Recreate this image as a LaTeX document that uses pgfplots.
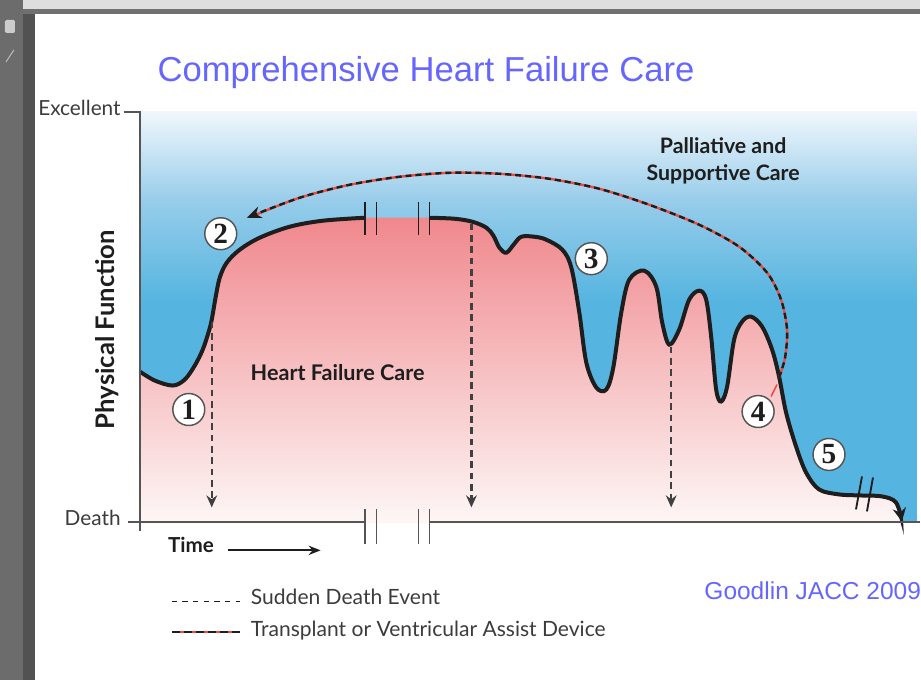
\documentclass[border=0pt]{standalone}
\usepackage{pgfplots}
\pgfplotsset{compat=1.18}
\usepackage{fontspec}
\setmainfont{Lato}
\newfontfamily\arialf{Liberation Sans}
\newfontfamily\seriff{Liberation Serif}
\usetikzlibrary{arrows.meta}
\definecolor{bgblue}{RGB}{86,181,224}
\definecolor{bgmid}{RGB}{150,204,234}
\definecolor{bgtop}{RGB}{240,247,252}
\definecolor{pinktop}{RGB}{240,136,141}
\definecolor{pinkmid}{RGB}{245,188,180}
\definecolor{pinkbot}{RGB}{253,247,246}
\definecolor{titleblue}{RGB}{102,102,255}
\definecolor{ink}{RGB}{30,30,30}
\definecolor{txt}{RGB}{60,60,60}
\definecolor{axgrey}{RGB}{85,85,85}
\definecolor{vadred}{RGB}{235,75,65}
\definecolor{barA}{RGB}{108,108,108}
\definecolor{barB}{RGB}{82,82,82}
\definecolor{topA}{RGB}{222,222,222}
\definecolor{topB}{RGB}{112,112,112}
\pgfdeclareverticalshading{bluesh}{100bp}{color(0bp)=(bgblue); color(25bp)=(bgblue); color(52bp)=(bgblue); color(64bp)=(bgmid); color(75bp)=(bgtop); color(100bp)=(bgtop)}
\tikzset{circ/.style={circle, draw=axgrey, line width=1.1pt, fill=white, minimum size=24pt, inner sep=0pt,
    font=\seriff\bfseries\fontsize{22}{22}\selectfont, text=ink}}
\begin{document}
\begin{tikzpicture}
\begin{axis}[scale only axis, width=690.75pt, height=510.75pt,
  xmin=0, xmax=921, ymin=0, ymax=681, y dir=reverse, hide axis, clip=false]
% page background and viewer frame
\fill[white] (axis cs:0,0) rectangle (axis cs:921,681);
\fill[barA] (axis cs:0,0) rectangle (axis cs:23,681);
\fill[barB] (axis cs:23,0) rectangle (axis cs:35,681);
\fill[topA] (axis cs:23,0) rectangle (axis cs:921,9);
\fill[topB] (axis cs:23,9) rectangle (axis cs:921,14);
\fill[gray!40, rounded corners=1pt] (axis cs:5,20) rectangle (axis cs:15,33);
\draw[gray!55, line width=0.8pt] (axis cs:6,62) -- (axis cs:14,50);
% blue background
\shade[shading=bluesh] (axis cs:140,112) rectangle (axis cs:918,522);
% pink area under the curve
\addplot[draw=none, top color=pinktop, middle color=pinkmid, bottom color=pinkbot, smooth, tension=0.55] coordinates {
(140,372)(155,381)(173,386)(185,380)(195,366)(203,350)(209,332)(212,320)(216,297)(220,278)(227,263)(240,250)(260,238)(290,227)(323,221)(365,218)
(377,218)(398,218)(419,218)
(430,218)(455,219)(473,222)(487,228)(494,236)(500,248)(507,253)(515,244)(522,237)(535,237)(547,240)(563,250)(572,268)(580,313)(587,363)(597,388)(607,390)(614,368)(622,313)(630,280)(645,271)(657,287)(663,323)(670,345)(680,330)(690,300)(700,291)(707,300)(712,337)(717,390)(722,402)(728,387)(735,340)(743,322)(752,317)(763,327)(773,350)(780,377)(787,413)(797,447)(807,473)(820,490)(840,495)(860,496)(883,497)(897,503)(903,520)
} -- (axis cs:903,524) -- (axis cs:140,524) -- cycle;
% curve, drawn in two pieces around the break
\addplot[ink, line width=3pt, smooth, tension=0.55] coordinates {
(140,372)(155,381)(173,386)(185,380)(195,366)(203,350)(209,332)(212,320)(216,297)(220,278)(227,263)(240,250)(260,238)(290,227)(323,221)(365,218)
};
\addplot[ink, line width=3pt, smooth, tension=0.55, -{Stealth[length=10pt,width=10pt]}] coordinates {
(430,218)(455,219)(473,222)(487,228)(494,236)(500,248)(507,253)(515,244)(522,237)(535,237)(547,240)(563,250)(572,268)(580,313)(587,363)(597,388)(607,390)(614,368)(622,313)(630,280)(645,271)(657,287)(663,323)(670,345)(680,330)(690,300)(700,291)(707,300)(712,337)(717,390)(722,402)(728,387)(735,340)(743,322)(752,317)(763,327)(773,350)(780,377)(787,413)(797,447)(807,473)(820,490)(840,495)(860,496)(883,497)(897,503)(903,522)
};
% break marks on the curve
\draw[ink, line width=1.4pt] (axis cs:365,202) -- (axis cs:365,235);
\draw[ink, line width=1.4pt] (axis cs:377,202) -- (axis cs:377,235);
\draw[ink, line width=1.4pt] (axis cs:419,202) -- (axis cs:419,235);
\draw[ink, line width=1.4pt] (axis cs:430,202) -- (axis cs:430,235);
\draw[ink, line width=1.4pt] (axis cs:863,477) -- (axis cs:857,510);
\draw[ink, line width=1.4pt] (axis cs:874,478) -- (axis cs:868,512);
% sudden death events
\addplot[ink!85, line width=1.8pt, dash pattern=on 5pt off 3.5pt, -{Stealth[length=9pt,width=8pt]}] coordinates {(212,322)(212,508)};
\addplot[ink!85, line width=1.8pt, dash pattern=on 5pt off 3.5pt, -{Stealth[length=9pt,width=8pt]}] coordinates {(472,224)(472,508)};
\addplot[ink!85, line width=1.8pt, dash pattern=on 5pt off 3.5pt, -{Stealth[length=9pt,width=8pt]}] coordinates {(672,347)(672,508)};
% transplant / VAD arc
\addplot[vadred, line width=1.8pt, smooth] coordinates {(780,378)(786,358)(788,330)(782,300)(768,273)(740,247)(700,225)(650,205)(600,189)(550,179)(500,174)(450,173)(400,177)(350,185)(300,198)(256,215)};
\addplot[ink, line width=1.8pt, smooth, dash pattern=on 4.5pt off 3pt, -{Stealth[length=11pt,width=9pt]}] coordinates {(780,378)(786,358)(788,330)(782,300)(768,273)(740,247)(700,225)(650,205)(600,189)(550,179)(500,174)(450,173)(400,177)(350,185)(300,198)(247,218)};
\addplot[vadred, line width=1.2pt] coordinates {(778,385)(772,397)};
% axes
\draw[axgrey, line width=1.4pt] (axis cs:124,112) -- (axis cs:140,112) -- (axis cs:140,532);
\draw[axgrey, line width=1.4pt] (axis cs:128,523) -- (axis cs:365,523);
\draw[axgrey, line width=1.4pt] (axis cs:430,523) -- (axis cs:921,523);
\draw[axgrey, line width=1.4pt] (axis cs:365,510) -- (axis cs:365,545);
\draw[axgrey, line width=1.4pt] (axis cs:377,510) -- (axis cs:377,545);
\draw[axgrey, line width=1.4pt] (axis cs:419,510) -- (axis cs:419,545);
\draw[axgrey, line width=1.4pt] (axis cs:430,510) -- (axis cs:430,545);
% numbered circles
\node[circ] at (axis cs:189,410) {1};
\node[circ] at (axis cs:221,234) {2};
\node[circ] at (axis cs:592,259) {3};
\node[circ] at (axis cs:759,412) {4};
\node[circ] at (axis cs:830,455) {5};
% texts
\node[anchor=base, inner sep=0pt, font=\arialf\fontsize{26}{30}\selectfont, text=titleblue] at (axis cs:426.5,82) {Comprehensive Heart Failure Care};
\node[anchor=base west, inner sep=0pt, font=\arialf\fontsize{18.4}{20}\selectfont, text=titleblue] at (axis cs:705,600) {Goodlin JACC 2009};
\node[anchor=mid east, inner sep=0pt, font=\fontsize{15.6}{17}\selectfont, text=txt] at (axis cs:121,112) {Excellent};
\node[anchor=mid east, inner sep=0pt, font=\fontsize{15.6}{17}\selectfont, text=txt] at (axis cs:121,523) {Death};
\node[rotate=90, inner sep=0pt, font=\bfseries\fontsize{19.2}{21}\selectfont, text=ink] at (axis cs:107,330) {Physical Function};
\node[inner sep=0pt, font=\bfseries\fontsize{16.2}{18}\selectfont, text=ink] at (axis cs:338,373) {Heart Failure Care};
\node[inner sep=0pt, align=center, font=\bfseries\fontsize{16}{20}\selectfont, text=ink] at (axis cs:724,161) {Palliative and\\Supportive Care};
\node[anchor=mid west, inner sep=0pt, font=\bfseries\fontsize{15.5}{17}\selectfont, text=ink] at (axis cs:168,550) {Time};
\draw[ink, line width=1.3pt, -{Stealth[length=9pt,width=7pt]}] (axis cs:228,551) -- (axis cs:321,551);
% legend
\draw[ink, line width=0.9pt, dash pattern=on 4pt off 4pt] (axis cs:172,602) -- (axis cs:240,602);
\draw[vadred, line width=1.5pt] (axis cs:172,633) -- (axis cs:240,633);
\draw[ink, line width=1.5pt, dash pattern=on 6pt off 3pt] (axis cs:172,633) -- (axis cs:240,633);
\node[anchor=mid west, inner sep=0pt, font=\fontsize{15.8}{17}\selectfont, text=txt] at (axis cs:251,602) {Sudden Death Event};
\node[anchor=mid west, inner sep=0pt, font=\fontsize{15.8}{17}\selectfont, text=txt] at (axis cs:251,634) {Transplant or Ventricular Assist Device};
\end{axis}
\end{tikzpicture}
\end{document}
